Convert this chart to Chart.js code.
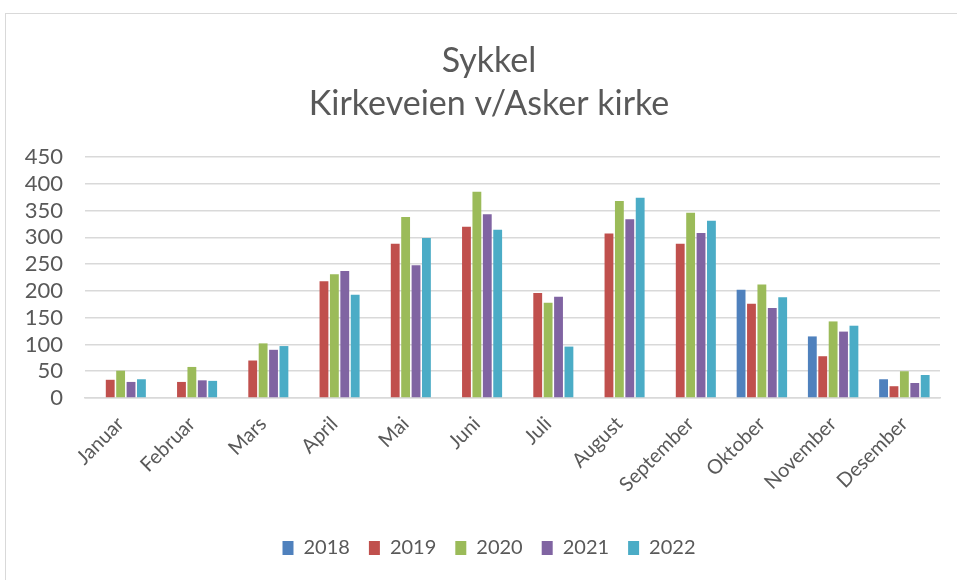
<!DOCTYPE html>
<html>
<head>
    <title>Sykkel - Kirkeveien v/Asker kirke</title>
    <script src="https://cdn.jsdelivr.net/npm/chart.js"></script>
    <style>
        body { margin: 0; background: #fff; overflow: hidden; }
        #wrap { position: absolute; left: 0; top: 0; width: 957px; height: 580px; }
        #frame { position: absolute; left: 5px; top: 13px; width: 990px; height: 600px;
                 border-left: 1px solid #d9d9d9; border-top: 1px solid #d9d9d9; }
    </style>
</head>
<body>
    <div id="frame"></div>
    <div id="wrap"><canvas id="sykkelChart" width="957" height="580"></canvas></div>

    <script>
        var months = ['Januar', 'Februar', 'Mars', 'April', 'Mai', 'Juni', 'Juli',
                      'August', 'September', 'Oktober', 'November', 'Desember'];

        var y2018 = [null, null, null, null, null, null, null, null, null, 202, 115, 35];
        var y2019 = [34, 30, 70, 218, 288, 320, 196, 307, 288, 176, 78, 22];
        var y2020 = [51, 58, 102, 231, 338, 385, 178, 368, 346, 212, 143, 50];
        var y2021 = [30, 33, 90, 237, 248, 343, 189, 334, 308, 168, 124, 28];
        var y2022 = [35, 32, 97, 193, 299, 314, 96, 374, 331, 188, 135, 43];

        var yTicks = [0, 50, 100, 150, 200, 250, 300, 350, 400, 450];

        var font = 'Lato, "Open Sans", sans-serif';
        var grey = '#595959';

        function ds(label, data, color) {
            return { label: label, data: data, backgroundColor: color, borderWidth: 0 };
        }

        // title and legend sit a bit right of the canvas centre in the original
        const shiftBoxes = {
            id: 'shiftBoxes',
            afterLayout: function(chart) {
                [chart.titleBlock, chart.legend].forEach(function(b) {
                    if (b) { b.left += 38; b.width -= 38; }
                });
            }
        };

        const ctx = document.getElementById('sykkelChart').getContext('2d');
        window.myChart = new Chart(ctx, {
            type: 'bar',
            data: {
                labels: months,
                datasets: [
                    ds('2018', y2018, '#4F81BD'),
                    ds('2019', y2019, '#C0504D'),
                    ds('2020', y2020, '#9BBB59'),
                    ds('2021', y2021, '#8064A2'),
                    ds('2022', y2022, '#4BACC6')
                ]
            },
            plugins: [shiftBoxes],
            options: {
                responsive: false,
                animation: false,
                layout: { padding: { left: 0, right: 17, top: 0, bottom: 12 } },
                datasets: { bar: { categoryPercentage: 0.73, barPercentage: 0.85 } },
                plugins: {
                    title: {
                        display: true,
                        text: ['Sykkel', 'Kirkeveien v/Asker kirke'],
                        color: grey,
                        font: { family: font, size: 34, weight: 'normal', lineHeight: 1.28 },
                        padding: { top: 39, bottom: 31 }
                    },
                    legend: {
                        position: 'bottom',
                        labels: {
                            color: grey,
                            font: { family: font, size: 20 },
                            boxWidth: 11,
                            boxHeight: 14,
                            padding: 19
                        }
                    },
                    tooltip: { enabled: false }
                },
                scales: {
                    x: {
                        grid: { display: false },
                        border: { color: '#d9d9d9', width: 1.5 },
                        ticks: {
                            color: grey,
                            font: { family: font, size: 20 },
                            minRotation: 45,
                            maxRotation: 45,
                            autoSkip: false,
                            padding: 6
                        },
                        afterFit: function(scale) { scale.height = 121; }
                    },
                    y: {
                        min: 0,
                        max: 450,
                        afterBuildTicks: function(scale) {
                            scale.ticks = yTicks.map(function(v) { return { value: v }; });
                        },
                        grid: { color: '#d9d9d9', lineWidth: 1.5, drawTicks: false },
                        border: { display: false },
                        ticks: {
                            color: grey,
                            font: { family: font, size: 22 },
                            autoSkip: false,
                            padding: 22
                        },
                        afterFit: function(scale) { scale.width = 85; }
                    }
                }
            }
        });
    </script>
</body>
</html>
